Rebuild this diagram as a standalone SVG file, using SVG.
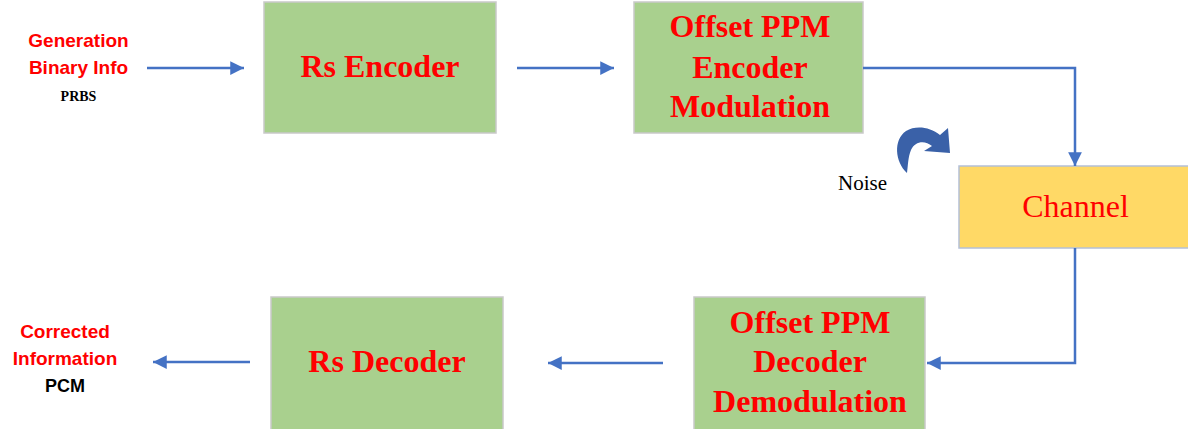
<svg xmlns="http://www.w3.org/2000/svg" width="1188" height="429" viewBox="0 0 1188 429">
<style>
.box{fill:#A9D08E;stroke:#C9C9C9;stroke-width:1.5}
.ybox{fill:#FFD966;stroke:#B4C0D8;stroke-width:1.5}
.bt{font-family:"Liberation Serif",serif;font-weight:bold;font-size:32px;fill:#FF0000;text-anchor:middle}
.lbl{font-family:"Liberation Sans",sans-serif;font-weight:bold;font-size:19px;fill:#FF0000;text-anchor:middle}
.conn{fill:none;stroke:#4472C4;stroke-width:2.5}
</style>
<defs>
<marker id="ah" viewBox="0 0 10 10" refX="10" refY="5" markerWidth="5.5" markerHeight="5.5" markerUnits="strokeWidth" orient="auto">
<path d="M0,0 L10,5 L0,10 Z" fill="#4472C4"/>
</marker>
</defs>
<g id="input-label">
<text class="lbl" x="78.5" y="47">Generation</text>
<text class="lbl" x="78.5" y="74">Binary Info</text>
<text x="78.5" y="101" font-family="Liberation Serif,serif" font-weight="bold" font-size="14" text-anchor="middle" fill="#000">PRBS</text>
</g>
<g id="rs-encoder">
<rect class="box" x="264" y="2" width="232" height="131"/>
<text class="bt" x="380" y="77">Rs Encoder</text>
</g>
<g id="ppm-encoder">
<rect class="box" x="634" y="2" width="229" height="131"/>
<text class="bt" x="750" y="37">Offset PPM</text>
<text class="bt" x="750" y="78">Encoder</text>
<text class="bt" x="750" y="117">Modulation</text>
</g>
<g id="channel">
<rect class="ybox" x="959" y="166" width="232" height="82"/>
<text x="1075.5" y="217" font-family="Liberation Serif,serif" font-size="32" text-anchor="middle" fill="#FF0000">Channel</text>
</g>
<g id="ppm-decoder">
<rect class="box" x="694" y="297" width="231" height="134"/>
<text class="bt" x="810" y="333">Offset PPM</text>
<text class="bt" x="810" y="372">Decoder</text>
<text class="bt" x="810" y="412">Demodulation</text>
</g>
<g id="rs-decoder">
<rect class="box" x="271" y="297" width="232" height="134"/>
<text class="bt" x="387" y="372">Rs Decoder</text>
</g>
<g id="output-label">
<text class="lbl" x="65" y="338">Corrected</text>
<text class="lbl" x="65" y="365">Information</text>
<text x="65" y="392" font-family="Liberation Sans,sans-serif" font-weight="bold" font-size="18" text-anchor="middle" fill="#000">PCM</text>
</g>
<g id="noise">
<path d="M907,173 C895,162 893,140 906,131 C916,125 930,127 940,135 L948,128 L950,153 L924,151 L932,146 C925,140 915,141 911,150 C908,157 908,166 907,173 Z" fill="#3A61A8"/>
<text x="838" y="190" font-family="Liberation Serif,serif" font-size="21" fill="#000">Noise</text>
</g>
<g id="connectors">
<path class="conn" d="M147,68 H244" marker-end="url(#ah)"/>
<path class="conn" d="M517,68 H614" marker-end="url(#ah)"/>
<path class="conn" d="M863,68 H1075 V166" marker-end="url(#ah)"/>
<path class="conn" d="M1075,248 V363 H927" marker-end="url(#ah)"/>
<path class="conn" d="M663,363 H548" marker-end="url(#ah)"/>
<path class="conn" d="M250,362 H153" marker-end="url(#ah)"/>
</g>
</svg>
